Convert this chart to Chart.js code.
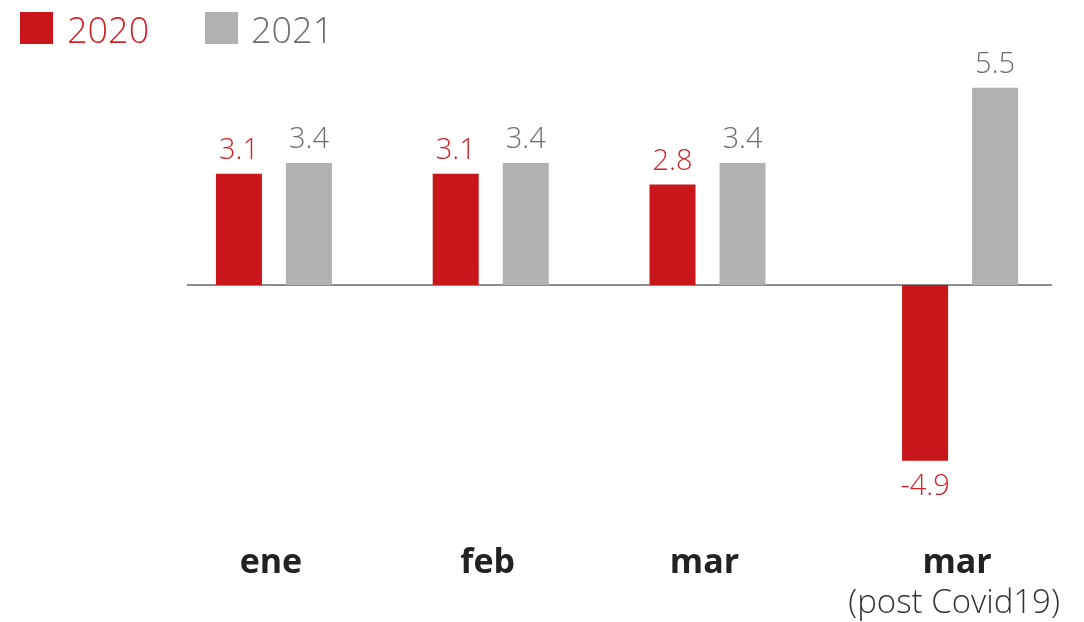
<!DOCTYPE html>
<html>
<head>
<meta charset="utf-8">
<script src="https://cdn.jsdelivr.net/npm/chart.js@4"></script>
<style>
  html, body { margin: 0; padding: 0; background: #fff; }
  #wrap { width: 1084px; height: 622px; position: relative; }
</style>
</head>
<body>
<div id="wrap"><canvas id="chart"></canvas></div>
<script>
// data
const categories = ["ene", "feb", "mar", "mar"];
const subLabels = ["", "", "", "(post Covid19)"];
const seriesNames = ["2020", "2021"];
const values2020 = [3.1, 3.1, 2.8, -4.9];
const values2021 = [3.4, 3.4, 3.4, 5.5];

// layout: slot centres on the x axis (last group sits a bit further out)
const slots = [0, 1, 2, 3.165];

const RED = "#c8161b";
const GREY = "#b1b1b1";
const FONT = "'Open Sans', sans-serif";

const toPoints = vals => vals.map((v, i) => ({ x: slots[i], y: v }));

// zero line, value labels, category labels and legend
const decor = {
    id: "decor",
    beforeDatasetsDraw(chart) {
        const { ctx, chartArea, scales } = chart;
        const y0 = scales.y.getPixelForValue(0);
        ctx.save();
        ctx.strokeStyle = "#8c8c8c";
        ctx.lineWidth = 2;
        ctx.beginPath();
        ctx.moveTo(chartArea.left, y0);
        ctx.lineTo(chartArea.right, y0);
        ctx.stroke();
        ctx.restore();
    },
    afterDatasetsDraw(chart) {
        const { ctx, scales } = chart;
        ctx.save();
        ctx.textAlign = "center";
        ctx.font = "300 29px " + FONT;
        chart.data.datasets.forEach((ds, di) => {
            ctx.fillStyle = di === 0 ? "#d0242b" : "#6e6e6e";
            chart.getDatasetMeta(di).data.forEach((bar, i) => {
                const v = ds.data[i].y;
                const txt = v.toFixed(1);
                if (v >= 0) {
                    ctx.textBaseline = "alphabetic";
                    ctx.fillText(txt, bar.x, bar.y - 15);
                } else {
                    ctx.textBaseline = "top";
                    ctx.fillText(txt, bar.x, bar.y + 12);
                }
            });
        });

        // category labels
        ctx.fillStyle = "#222";
        ctx.textBaseline = "alphabetic";
        categories.forEach((c, i) => {
            const x = scales.x.getPixelForValue(slots[i]);
            ctx.font = "bold 34px " + FONT;
            ctx.fillText(c, x - 3, 573);
            if (subLabels[i]) {
                ctx.font = "300 33px " + FONT;
                ctx.fillStyle = "#333";
                ctx.fillText(subLabels[i], x - 6, 613);
                ctx.fillStyle = "#222";
            }
        });

        // legend
        const legend = [
            { box: 20, text: 67, fill: RED, color: "#d0242b" },
            { box: 205, text: 251, fill: GREY, color: "#6e6e6e" }
        ];
        ctx.textAlign = "left";
        ctx.font = "300 36px " + FONT;
        legend.forEach((l, i) => {
            ctx.fillStyle = l.fill;
            ctx.fillRect(l.box, 12, 33, 32);
            ctx.fillStyle = l.color;
            ctx.fillText(seriesNames[i], l.text, 43);
        });
        ctx.restore();
    }
};

new Chart(document.getElementById("chart"), {
    type: "bar",
    data: {
        datasets: [{
            label: seriesNames[0],
            data: toPoints(values2020),
            backgroundColor: RED
        }, {
            label: seriesNames[1],
            data: toPoints(values2021),
            backgroundColor: GREY
        }]
    },
    options: {
        responsive: true,
        maintainAspectRatio: false,
        animation: false,
        categoryPercentage: 0.646,
        barPercentage: 0.657,
        layout: { padding: { left: 187, right: 32, top: 34, bottom: 86 } },
        plugins: {
            legend: { display: false },
            tooltip: { enabled: false }
        },
        scales: {
            x: {
                type: "linear",
                display: false,
                offset: false,
                min: -0.401,
                max: 3.589,
                afterBuildTicks: scale => {
                    scale.ticks = slots.map(v => ({ value: v }));
                }
            },
            y: {
                display: false,
                min: -7,
                max: 7
            }
        }
    },
    plugins: [decor]
});
</script>
</body>
</html>
